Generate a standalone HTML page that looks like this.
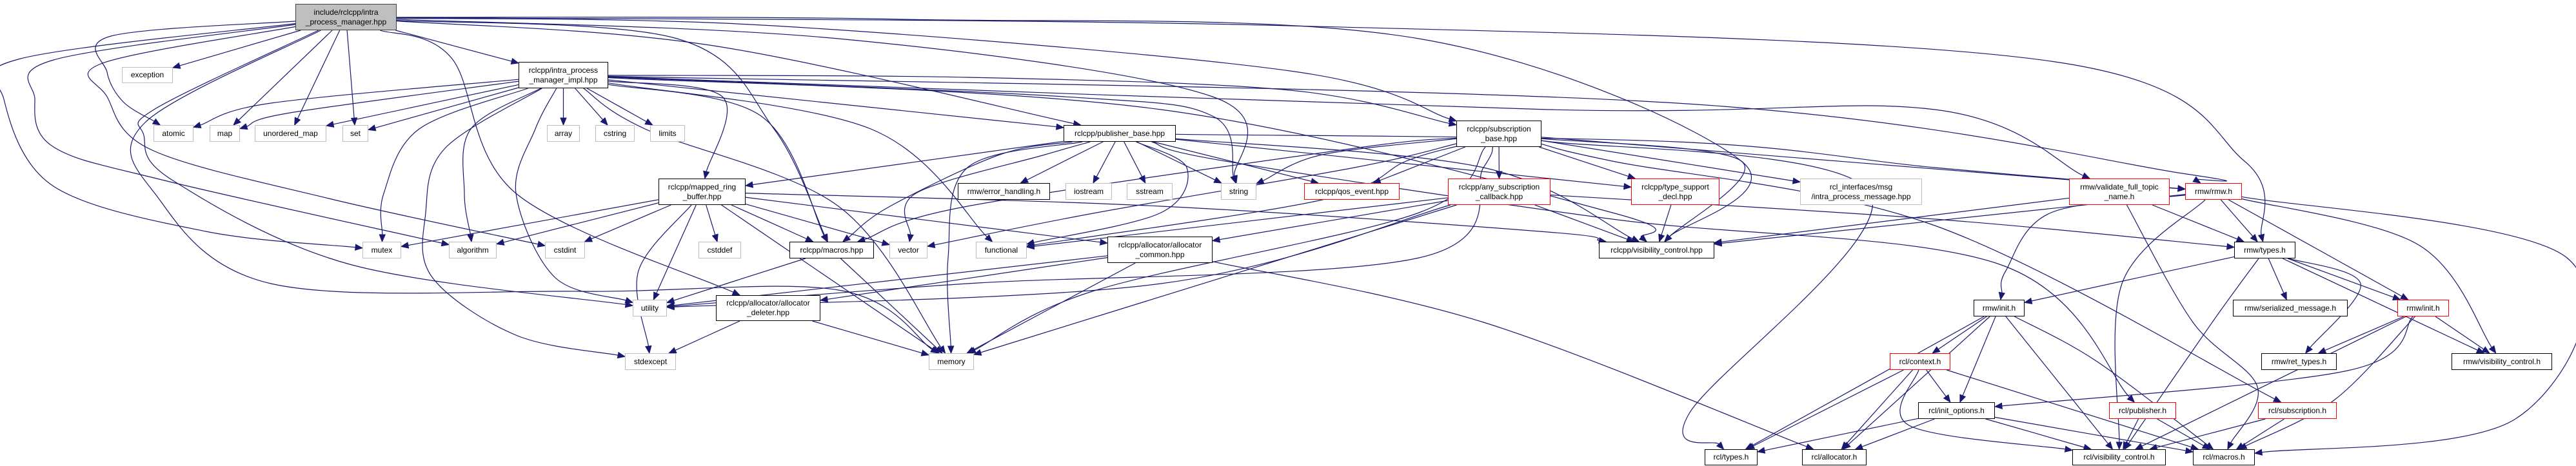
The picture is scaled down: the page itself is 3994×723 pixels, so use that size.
<!DOCTYPE html>
<html><head><meta charset="utf-8">
<style>
html,body{margin:0;padding:0;background:#fff;}
#c{position:relative;width:3994px;height:723px;overflow:hidden;background:#fff;}
.n{position:absolute;box-sizing:border-box;border:1.5px solid #000;background:#fff;font-family:"Liberation Sans",sans-serif;font-size:12px;line-height:15px;color:#000;display:flex;align-items:center;justify-content:center;text-align:center;white-space:pre;z-index:2;}
.g{border-color:#bfbfbf;}
.r{border-color:#ff0000;}
.m{background:#bfbfbf;border-color:#404040;}
svg{position:absolute;left:0;top:0;z-index:1;}
</style></head><body>
<div id="c">
<svg id="s" width="3994" height="723" xmlns="http://www.w3.org/2000/svg"></svg>
<div class="n m" id="main" style="left:458px;top:6px;width:157px;height:41px">include/rclcpp/intra
_process_manager.hpp</div>
<div class="n g" id="exc" style="left:189px;top:104px;width:79px;height:25px">exception</div>
<div class="n" id="impl" style="left:804px;top:96px;width:139px;height:41px">rclcpp/intra_process
_manager_impl.hpp</div>
<div class="n g" id="atomic" style="left:238px;top:194px;width:62px;height:26px">atomic</div>
<div class="n g" id="map" style="left:325px;top:194px;width:47px;height:26px">map</div>
<div class="n g" id="umap" style="left:395px;top:194px;width:111px;height:26px">unordered_map</div>
<div class="n g" id="set" style="left:531px;top:194px;width:40px;height:26px">set</div>
<div class="n g" id="array" style="left:848px;top:194px;width:51px;height:26px">array</div>
<div class="n g" id="cstring" style="left:923px;top:194px;width:61px;height:26px">cstring</div>
<div class="n g" id="limits" style="left:1008px;top:194px;width:54px;height:26px">limits</div>
<div class="n g" id="mutex" style="left:562px;top:375px;width:60px;height:26px">mutex</div>
<div class="n g" id="algo" style="left:696px;top:375px;width:74px;height:26px">algorithm</div>
<div class="n g" id="cstdint" style="left:845px;top:375px;width:62px;height:26px">cstdint</div>
<div class="n g" id="utility" style="left:981px;top:465px;width:53px;height:26px">utility</div>
<div class="n g" id="stdexc" style="left:969px;top:548px;width:79px;height:26px">stdexcept</div>
<div class="n" id="ring" style="left:1021px;top:277px;width:135px;height:41px">rclcpp/mapped_ring
_buffer.hpp</div>
<div class="n" id="pub" style="left:1649px;top:194px;width:174px;height:26px">rclcpp/publisher_base.hpp</div>
<div class="n" id="errh" style="left:1485px;top:284px;width:143px;height:26px">rmw/error_handling.h</div>
<div class="n g" id="iostream" style="left:1652px;top:284px;width:72px;height:26px">iostream</div>
<div class="n g" id="sstream" style="left:1747px;top:284px;width:71px;height:26px">sstream</div>
<div class="n g" id="string" style="left:1893px;top:284px;width:55px;height:26px">string</div>
<div class="n g" id="cstddef" style="left:1083px;top:375px;width:66px;height:26px">cstddef</div>
<div class="n" id="macros" style="left:1224px;top:375px;width:131px;height:26px">rclcpp/macros.hpp</div>
<div class="n g" id="vector" style="left:1379px;top:375px;width:59px;height:26px">vector</div>
<div class="n g" id="functional" style="left:1513px;top:375px;width:79px;height:26px">functional</div>
<div class="n" id="acommon" style="left:1717px;top:367px;width:163px;height:41px">rclcpp/allocator/allocator
_common.hpp</div>
<div class="n" id="adeleter" style="left:1110px;top:458px;width:162px;height:40px">rclcpp/allocator/allocator
_deleter.hpp</div>
<div class="n g" id="memory" style="left:1440px;top:548px;width:70px;height:26px">memory</div>
<div class="n" id="sub" style="left:2258px;top:187px;width:132px;height:41px">rclcpp/subscription
_base.hpp</div>
<div class="n r" id="qos" style="left:2022px;top:284px;width:148px;height:26px">rclcpp/qos_event.hpp</div>
<div class="n r" id="anycb" style="left:2245px;top:277px;width:159px;height:41px">rclcpp/any_subscription
_callback.hpp</div>
<div class="n r" id="tsd" style="left:2529px;top:277px;width:137px;height:41px">rclcpp/type_support
_decl.hpp</div>
<div class="n g" id="ipm" style="left:2791px;top:277px;width:189px;height:41px">rcl_interfaces/msg
/intra_process_message.hpp</div>
<div class="n" id="vis" style="left:2479px;top:375px;width:179px;height:26px">rclcpp/visibility_control.hpp</div>
<div class="n r" id="ctx" style="left:2930px;top:548px;width:94px;height:26px">rcl/context.h</div>
<div class="n" id="initopt" style="left:2974px;top:624px;width:119px;height:26px">rcl/init_options.h</div>
<div class="n" id="rcltypes" style="left:2643px;top:697px;width:82px;height:25px">rcl/types.h</div>
<div class="n" id="rclalloc" style="left:2794px;top:697px;width:100px;height:25px">rcl/allocator.h</div>
<div class="n r" id="validate" style="left:3208px;top:277px;width:156px;height:41px">rmw/validate_full_topic
_name.h</div>
<div class="n r" id="rmwh" style="left:3388px;top:284px;width:88px;height:26px">rmw/rmw.h</div>
<div class="n" id="rmwtypes" style="left:3464px;top:375px;width:95px;height:26px">rmw/types.h</div>
<div class="n" id="rmwinit" style="left:3060px;top:465px;width:79px;height:26px">rmw/init.h</div>
<div class="n" id="sermsg" style="left:3462px;top:465px;width:178px;height:26px">rmw/serialized_message.h</div>
<div class="n r" id="rmwinit2" style="left:3717px;top:465px;width:80px;height:26px">rmw/init.h</div>
<div class="n" id="rettypes" style="left:3506px;top:548px;width:117px;height:26px">rmw/ret_types.h</div>
<div class="n" id="rmwvis" style="left:3801px;top:548px;width:156px;height:26px">rmw/visibility_control.h</div>
<div class="n r" id="rclpub" style="left:3270px;top:624px;width:104px;height:26px">rcl/publisher.h</div>
<div class="n r" id="rclsub" style="left:3501px;top:624px;width:122px;height:26px">rcl/subscription.h</div>
<div class="n" id="rclvis" style="left:3213px;top:697px;width:145px;height:25px">rcl/visibility_control.h</div>
<div class="n" id="rclmacros" style="left:3400px;top:697px;width:96px;height:25px">rcl/macros.h</div>
</div>
<script>
(function(){
var svg=document.getElementById('s');var NS='http://www.w3.org/2000/svg';
function R(id){var e=document.getElementById(id);var x=parseFloat(e.style.left),y=parseFloat(e.style.top),w=parseFloat(e.style.width),h=parseFloat(e.style.height);return{cx:x+w/2,cy:y+h/2,hw:w/2,hh:h/2};}
function bp(r,p){var dx=p[0]-r.cx,dy=p[1]-r.cy;if(dx==0&&dy==0)return[r.cx,r.cy];var t=Math.min(dx?r.hw/Math.abs(dx):1e9,dy?r.hh/Math.abs(dy):1e9);return[r.cx+dx*t,r.cy+dy*t];}
var E=[
['main','exc'],['main','atomic',[[172,56],[166,112],[191,158]]],['main','map'],['main','umap'],['main','set'],['main','impl'],
['main','mutex',[[32,91],[6,154],[83,289],[319,359]]],['main','algo',[[83,93],[54,154],[83,228],[255,280]]],
['main','cstdint',[[159,98],[166,150],[236,233],[510,308]]],['main','utility',[[242,168],[223,210],[268,280],[542,410]]],
['main','memory',[[225,190],[240,300],[420,440],[900,452],[1300,450]]],['main','pub',[[1100,70]]],['main','sub',[[1200,40],[2000,110]]],
['main','macros',[[1050,60],[1200,200]]],['main','rmwtypes',[[2000,40],[3180,95],[3480,250]]],['main','string',[[1300,60],[1880,150]]],
['main','vis',[[1400,30],[2200,60],[2700,250]]],['main','adeleter',[[700,90],[800,300]]],
['impl','atomic',[[420,160]]],['impl','map',[[450,175]]],['impl','umap'],['impl','set'],['impl','mutex',[[650,200],[595,300]]],
['impl','algo',[[730,200],[720,300]]],['impl','array'],['impl','cstring'],['impl','limits'],['impl','utility',[[830,200],[800,300],[860,430]]],
['impl','stdexc',[[690,230],[660,330],[670,430],[800,520]]],['impl','memory',[[1000,200],[1300,320]]],['impl','ring',[[1120,150]]],
['impl','macros',[[1180,180]]],['impl','pub'],['impl','sub',[[1500,120],[2000,140]]],['impl','string',[[1650,150],[1880,180]]],
['impl','functional',[[1350,200]]],['impl','vis',[[1800,170],[2500,330]]],['impl','rmwh',[[2600,160],[3390,270]]],['impl','validate',[[2400,170],[3000,170]]],
['ring','mutex'],['ring','algo'],['ring','cstdint'],['ring','cstddef'],['ring','utility'],['ring','stdexc',[[990,420]]],['ring','memory'],
['ring','macros'],['ring','vector'],['ring','acommon'],['ring','vis',[[1800,320],[2400,360]]],
['pub','ring'],['pub','macros',[[1550,240],[1380,320]]],['pub','vector',[[1620,240],[1420,300]]],['pub','memory',[[1500,260],[1470,400]]],
['pub','errh'],['pub','iostream'],['pub','sstream'],['pub','string'],['pub','functional',[[1840,260],[1800,330]]],['pub','qos'],['pub','tsd'],
['pub','vis',[[2300,260]]],['pub','rclpub',[[1900,250],[2500,340],[3100,410]]],['pub','rmwh',[[2600,220],[3000,260]]],
['sub','qos'],['sub','anycb'],['sub','tsd'],['sub','ipm'],['sub','vis',[[2700,250]]],['sub','string',[[2050,240]]],['sub','functional',[[2180,250],[2050,310]]],
['sub','vector',[[2100,260],[1700,330]]],['sub','macros',[[2100,230],[1500,320]]],['sub','memory',[[2200,330],[1700,450]]],['sub','rmwh'],
['sub','rclsub',[[2500,250],[3000,350]]],['sub','utility',[[2300,260],[2200,400],[1500,440]]],['sub','rcltypes',[[2900,300],[2620,640]]],
['anycb','vis'],['anycb','acommon'],['anycb','functional'],['anycb','memory'],['anycb','utility',[[1800,440]]],['anycb','rmwtypes',[[3000,340]]],
['tsd','vis'],['acommon','memory'],['acommon','rclalloc',[[2300,500]]],['acommon','adeleter'],['acommon','utility'],
['adeleter','stdexc'],['adeleter','memory'],['macros','utility'],['macros','memory'],
['validate','rmwtypes'],['validate','rclmacros',[[3400,500],[3500,600]]],['validate','vis'],
['rmwh','rmwtypes'],['rmwh','rmwinit',[[3180,330],[3110,420]]],['rmwh','rmwinit2'],['rmwh','rmwvis',[[3750,380]]],
['rmwh','rclmacros',[[3980,400],[3900,650]]],['rmwh','rclvis',[[3290,440]]],['rmwh','vis'],
['rmwtypes','rmwinit'],['rmwtypes','sermsg'],['rmwtypes','rmwinit2'],['rmwtypes','rettypes',[[3660,440]]],['rmwtypes','rmwvis'],['rmwtypes','rclvis',[[3430,500]]],
['rmwinit','ctx'],['rmwinit','initopt'],['rmwinit','rclvis'],['rmwinit','rclmacros',[[3250,560]]],['rmwinit','rcltypes'],['rmwinit','rclalloc'],
['rmwinit2','rettypes'],['rmwinit2','rmwvis'],['rmwinit2','initopt',[[3640,575]]],['rmwinit2','rclmacros',[[3620,620]]],['rmwinit2','rclvis'],
['ctx','rcltypes'],['ctx','rclalloc'],['ctx','initopt'],['ctx','rclvis',[[2960,660]]],['ctx','rclmacros'],
['initopt','rcltypes'],['initopt','rclalloc'],['initopt','rclvis'],['initopt','rclmacros'],
['rclpub','rclvis'],['rclpub','rclmacros'],['rclsub','rclvis'],['rclsub','rclmacros']
];
var out='';
E.forEach(function(e){
 var a=R(e[0]),b=R(e[1]),w=e[2]||[];
 var first=w.length?w[0]:[b.cx,b.cy],last=w.length?w[w.length-1]:[a.cx,a.cy];
 var P=[bp(a,first)].concat(w).concat([bp(b,last)]);
 var end=P[P.length-1],prev=P[P.length-2];
 var dx=end[0]-prev[0],dy=end[1]-prev[1],L=Math.sqrt(dx*dx+dy*dy)||1;dx/=L;dy/=L;
 var al=11,base=[end[0]-dx*al,end[1]-dy*al];
 P[P.length-1]=base;
 var d='M'+P[0][0].toFixed(1)+','+P[0][1].toFixed(1);
 for(var i=0;i<P.length-1;i++){
  var p0=P[i-1]||P[i],p1=P[i],p2=P[i+1],p3=P[i+2]||P[i+1];
  var c1=[p1[0]+(p2[0]-p0[0])/6,p1[1]+(p2[1]-p0[1])/6],c2=[p2[0]-(p3[0]-p1[0])/6,p2[1]-(p3[1]-p1[1])/6];
  d+=' C'+c1[0].toFixed(1)+','+c1[1].toFixed(1)+' '+c2[0].toFixed(1)+','+c2[1].toFixed(1)+' '+p2[0].toFixed(1)+','+p2[1].toFixed(1);
 }
 out+='<path d="'+d+'" fill="none" stroke="#191970" stroke-width="1.2"/>';
 var px=-dy*4.5,py=dx*4.5;
 out+='<polygon points="'+end[0]+','+end[1]+' '+(base[0]+px)+','+(base[1]+py)+' '+(base[0]-px)+','+(base[1]-py)+'" fill="#191970" stroke="#191970"/>';
});
svg.innerHTML=out;
})();
</script>
</body></html>
